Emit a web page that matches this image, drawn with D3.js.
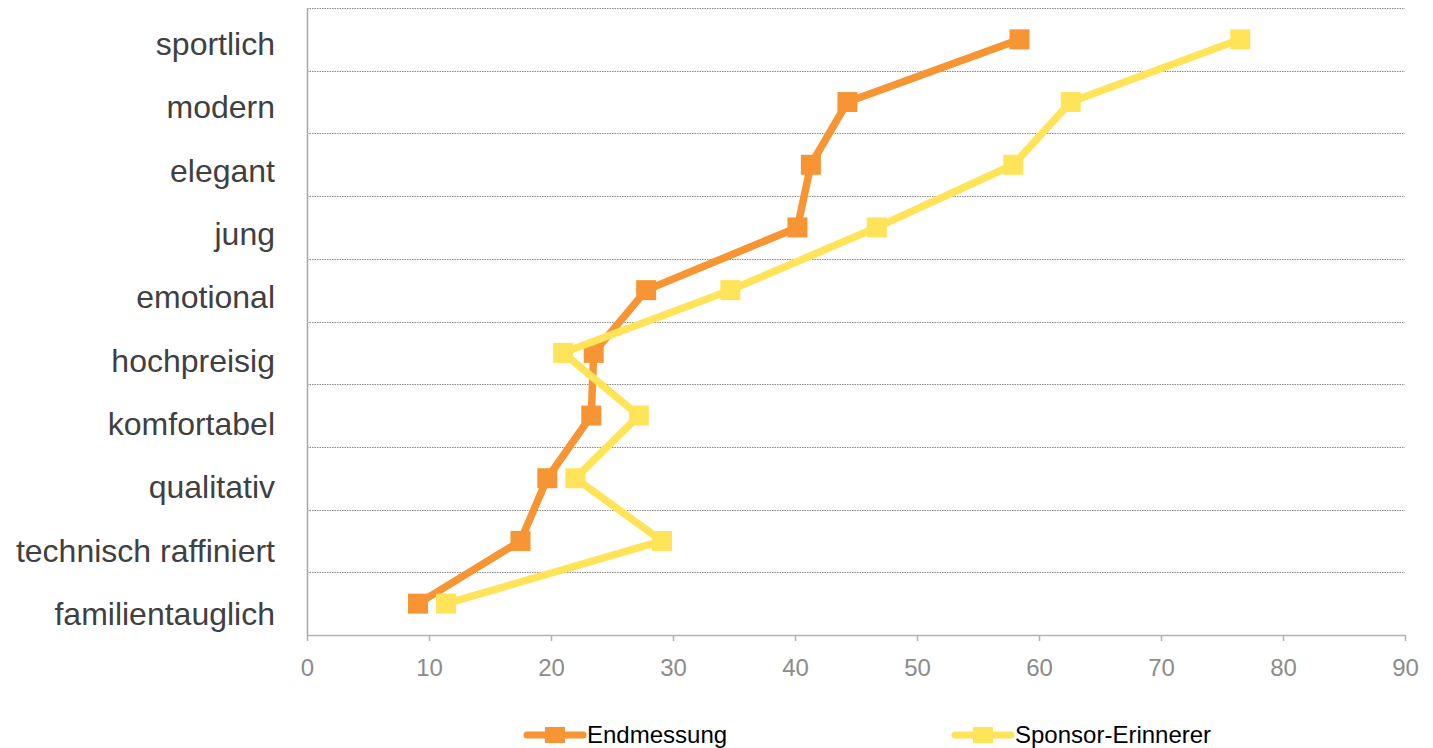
<!DOCTYPE html>
<html><head><meta charset="utf-8">
<script src="https://cdn.jsdelivr.net/npm/d3@7"></script>
<style>body{margin:0;background:#fff}svg{display:block;font-family:"Liberation Sans",Arial,sans-serif}</style>
</head><body><svg id="c" width="1433" height="748"></svg>
<script>
const categories = ["sportlich","modern","elegant","jung","emotional","hochpreisig","komfortabel","qualitativ","technisch raffiniert","familientauglich"];
const endmessung = [58.4,44.3,41.3,40.2,27.8,23.5,23.3,19.7,17.5,9.1];
const sponsorErinnerer = [76.5,62.6,57.9,46.7,34.7,21.0,27.2,22.0,29.1,11.4];
const xTicks = [0,10,20,30,40,50,60,70,80,90];
const seriesNames = ["Endmessung","Sponsor-Erinnerer"];
const colors = ["#F79433","#FFE359"];

const svg = d3.select("#c");
const L=307, R=1405, T=8, B=635;
const x = d3.scaleLinear().domain([0,90]).range([L,R]);
const y = d3.scaleBand().domain(categories).range([T,B]);
const labelY = d3.scalePoint().domain(categories).range([55,625]);

// gridlines at band boundaries
const bounds = categories.map((c)=>y(c));
svg.append("g").selectAll("line").data(bounds).join("line")
  .attr("x1",L).attr("x2",R).attr("y1",d=>Math.round(d)+0.5).attr("y2",d=>Math.round(d)+0.5)
  .attr("stroke","#8a8a8a").attr("stroke-width",1).attr("stroke-dasharray","1.5,1");

// left axis line
svg.append("line").attr("x1",L+0.5).attr("x2",L+0.5).attr("y1",T).attr("y2",B)
  .attr("stroke","#a6a6a6").attr("stroke-width",1.5);

// bottom axis
const xa = svg.append("g").attr("transform",`translate(0,${B})`)
  .call(d3.axisBottom(x).tickValues(xTicks).tickSize(6).tickSizeOuter(0).tickPadding(18));
xa.select(".domain").attr("stroke","#b3b3b3").attr("stroke-width",1.5);
xa.selectAll(".tick line").attr("stroke","#b3b3b3").attr("stroke-width",1.5);
xa.selectAll(".tick text").attr("fill","#8c8c8c").attr("font-size",24).attr("font-family","Liberation Sans, Arial, sans-serif");

// category labels
svg.append("g").selectAll("text").data(categories).join("text")
  .attr("x",275).attr("y",d=>labelY(d))
  .attr("text-anchor","end").attr("font-size",32).attr("fill","#404040").text(d=>d);

const series = [endmessung, sponsorErinnerer];
const line = d3.line().x(d=>x(d.v)).y(d=>y(d.c)+y.bandwidth()/2);
const ms = 20;
series.forEach((vals,i)=>{
  const pts = vals.map((v,j)=>({v,c:categories[j]}));
  svg.append("path").datum(pts).attr("d",line).attr("fill","none")
    .attr("stroke",colors[i]).attr("stroke-width",7.5).attr("stroke-linejoin","round");
  svg.append("g").selectAll("rect").data(pts).join("rect")
    .attr("x",d=>x(d.v)-ms/2).attr("y",d=>y(d.c)+y.bandwidth()/2-ms/2)
    .attr("width",ms).attr("height",ms).attr("fill",colors[i]);
});

// legend
const legX = [527, 955];
const legY = 735;
seriesNames.forEach((n,i)=>{
  const g = svg.append("g");
  g.append("line").attr("x1",legX[i]).attr("x2",legX[i]+56).attr("y1",legY).attr("y2",legY)
    .attr("stroke",colors[i]).attr("stroke-width",7).attr("stroke-linecap","round");
  g.append("rect").attr("x",legX[i]+28-10).attr("y",legY-8).attr("width",20).attr("height",16).attr("fill",colors[i]);
  g.append("text").attr("x",legX[i]+60).attr("y",legY).attr("dy","0.35em")
    .attr("font-size",24).attr("fill","#000").text(n);
});
</script></body></html>
